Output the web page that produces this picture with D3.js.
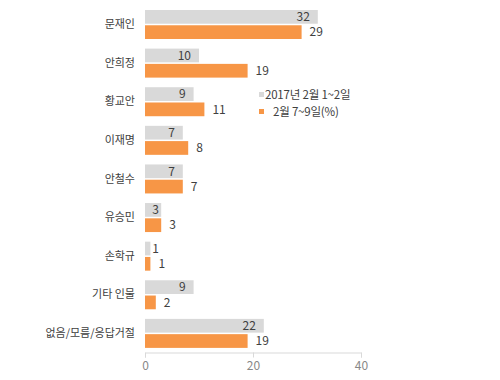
<!DOCTYPE html>
<html><head><meta charset="utf-8">
<script src="https://cdn.jsdelivr.net/npm/d3@7"></script>
<style>body{margin:0;background:#fff}svg{display:block}text{font-family:"Noto Sans CJK KR","Noto Sans",sans-serif}</style>
</head><body><svg id="c" width="500" height="380"></svg>
<script>
const categories = ["문재인","안희정","황교안","이재명","안철수","유승민","손학규","기타 인물","없음/모름/응답거절"];
const series1 = [32,10,9,7,7,3,1,9,22];
const series2 = [29,19,11,8,7,3,1,2,19];
const seriesNames = ["2017년 2월 1~2일","2월 7~9일(%)"];
const ticks = [0,20,40];

const svg = d3.select("#c");
const x = d3.scaleLinear().domain([0,40]).range([145,361]);
const y = d3.scaleBand().domain(categories).range([5,352.5]).padding(0);
const sub = d3.scaleBand().domain(["a","b"]).range([5,34]).paddingInner(0.1);
const colors = ["#d9d9d9","#f79646"];
const txt = "#404040";

const g = svg.append("g");
categories.forEach((c,i)=>{
  const y0 = y(c);
  g.append("rect").attr("x",x(0)).attr("y",y0+sub("a")).attr("width",x(series1[i])-x(0)).attr("height",sub.bandwidth()).attr("fill",colors[0]);
  g.append("rect").attr("x",x(0)).attr("y",y0+sub("b")).attr("width",x(series2[i])-x(0)).attr("height",sub.bandwidth()).attr("fill",colors[1]);
  g.append("text").attr("x",Math.max(x(series1[i])-8,159)).attr("y",y0+sub("a")+sub.bandwidth()/2).attr("dy","0.35em").attr("text-anchor","end").attr("font-size",12).attr("fill",txt).text(series1[i]);
  g.append("text").attr("x",x(series2[i])+8).attr("y",y0+sub("b")+sub.bandwidth()/2).attr("dy","0.35em").attr("font-size",12).attr("fill",txt).text(series2[i]);
  g.append("text").attr("x",135).attr("y",y0+y.bandwidth()/2).attr("dy","0.35em").attr("text-anchor","end").attr("font-size",11).attr("fill",txt).text(c);
});

const ax = svg.append("g").attr("transform","translate(0,352.5)")
  .call(d3.axisBottom(x).tickValues(ticks).tickSize(5).tickPadding(4).tickFormat(d3.format("d")));
ax.select(".domain").attr("stroke","#d9d9d9");
ax.selectAll(".tick line").attr("stroke","#d9d9d9");
ax.selectAll(".tick text").attr("fill","#888").attr("font-size",12).attr("font-family","\"Noto Sans CJK KR\",sans-serif");

const lg = svg.append("g");
lg.append("rect").attr("x",259).attr("y",92).attr("width",5).attr("height",5).attr("fill",colors[0]);
lg.append("text").attr("x",265).attr("y",94.5).attr("dy","0.35em").attr("font-size",11.5).attr("fill",txt).attr("letter-spacing",-0.2).text(seriesNames[0]);
lg.append("rect").attr("x",259).attr("y",109).attr("width",5).attr("height",5).attr("fill",colors[1]);
lg.append("text").attr("x",273).attr("y",111.5).attr("dy","0.35em").attr("font-size",11.5).attr("fill",txt).attr("letter-spacing",-0.2).text(seriesNames[1]);
</script></body></html>
